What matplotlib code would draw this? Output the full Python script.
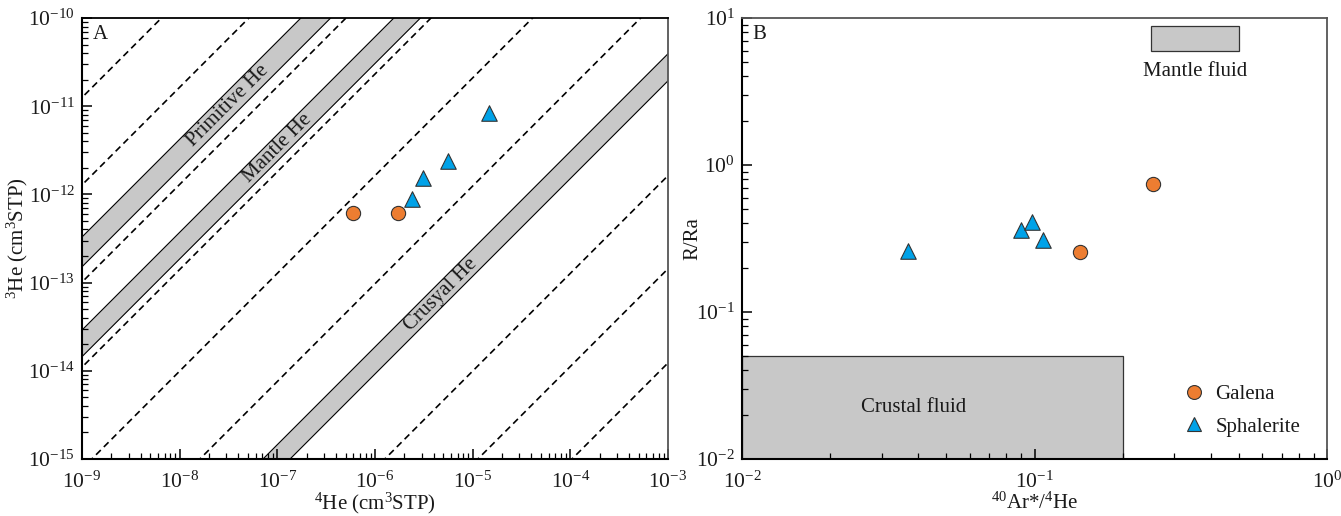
import numpy as np
import matplotlib
matplotlib.use("Agg")
import matplotlib.pyplot as plt
from matplotlib.lines import Line2D
from matplotlib.patches import Rectangle
from matplotlib.ticker import LogLocator, NullFormatter

plt.rcParams['font.family'] = ['Liberation Serif', 'DejaVu Serif']
plt.rcParams['mathtext.fontset'] = 'custom'
plt.rcParams['mathtext.rm'] = 'Liberation Serif'
plt.rcParams['mathtext.it'] = 'Liberation Serif:italic'
plt.rcParams['axes.unicode_minus'] = False

# ---------------- data : panel A ----------------
# 4He, 3He (cm3 STP)
galena_he4 = [5.9e-7, 1.7e-6]
galena_he3 = [6.1e-13, 6.1e-13]
sphal_he4 = [2.4e-6, 3.1e-6, 5.6e-6, 1.47e-5]
sphal_he3 = [8.9e-13, 1.53e-12, 2.4e-12, 8.4e-12]

# reference lines: 4He value where each line meets 3He = 1e-15, common log-slope
line_slope = 1.108
dashed_x0 = [2.0e-13, 1.57e-12, 1.55e-11, 1.15e-10, 1.26e-9, 1.61e-8,
             1.26e-6, 1.13e-5, 1.04e-4]
band_names = ["Primitive He", "Mantle He", "Crusyal He"]
band_x0_upper = [5.35e-12, 4.79e-11, 7.13e-8]
band_x0_lower = [1.08e-11, 8.97e-11, 1.35e-7]
band_label_x = [3.1e-8, 1.0e-7, 4.7e-6]

# ---------------- data : panel B ----------------
galena_ar = [0.143, 0.255]
galena_rra = [0.256, 0.74]
sphal_ar = [0.037, 0.090, 0.098, 0.107]
sphal_rra = [0.26, 0.36, 0.41, 0.31]
mantle_box = dict(x=(0.25, 0.5), y=(6.0, 8.8))
crust_box = dict(x=(0.01, 0.2), y=(0.01, 0.05))

ORANGE = "#ED7D31"
BLUE = "#00A2E8"
GRAY = "#C8C8C8"
TXT = "#1a1a1a"

W, H = 1341, 516
fig = plt.figure(figsize=(W / 100, H / 100), dpi=100)

def frac(x0, y0, x1, y1):
    return [x0 / W, 1 - y1 / H, (x1 - x0) / W, (y1 - y0) / H]

axA = fig.add_axes(frac(82, 18, 668, 459))
axB = fig.add_axes(frac(742, 18, 1327, 459))

def style(ax):
    ax.set_xscale('log')
    ax.set_yscale('log')
    ax.tick_params(which='both', direction='in', top=False, right=False,
                   labelsize=15.5, colors='black', labelcolor=TXT)
    ax.tick_params(which='major', length=7, width=1.1)
    ax.tick_params(which='minor', length=4, width=0.9)
    ax.tick_params(axis='x', which='both', pad=9)
    ax.tick_params(axis='y', which='both', pad=5)
    for s in ['left', 'bottom']:
        ax.spines[s].set_linewidth(1.5)
        ax.spines[s].set_color('black')
    for s in ['top', 'right']:
        ax.spines[s].set_linewidth(1.3)
        ax.spines[s].set_color('#555555')
    ax.xaxis.set_minor_locator(LogLocator(base=10, subs=np.arange(2, 10)))
    ax.yaxis.set_minor_locator(LogLocator(base=10, subs=np.arange(2, 10)))
    ax.xaxis.set_minor_formatter(NullFormatter())
    ax.yaxis.set_minor_formatter(NullFormatter())

# ---------------- panel A ----------------
style(axA)
axA.spines['top'].set_color('black')
xlimA = (1e-9, 1e-3)
ylimA = (1e-15, 1e-10)
xx = np.logspace(-13, -2, 400)

def ref_line(x0):
    return 1e-15 * (xx / x0) ** line_slope

for x0 in dashed_x0:
    axA.plot(xx, ref_line(x0), color='black', lw=1.2, ls=(0, (4, 2.6)), zorder=2)

for name, xu, xl, lx in zip(band_names, band_x0_upper, band_x0_lower, band_label_x):
    yu = ref_line(xu)
    yl = ref_line(xl)
    axA.fill_between(xx, yl, yu, color=GRAY, lw=0, zorder=1)
    axA.plot(xx, yu, color='black', lw=0.8, zorder=2)
    axA.plot(xx, yl, color='black', lw=0.8, zorder=2)
    ly = 1e-15 * (lx / np.sqrt(xu * xl)) ** line_slope
    axA.text(lx, ly, name, rotation=45, rotation_mode='anchor', ha='center',
             va='center', fontsize=15, color=TXT, zorder=3)

axA.scatter(galena_he4, galena_he3, s=105, marker='o', facecolor=ORANGE,
            edgecolor='#333333', linewidth=0.8, zorder=5)
axA.scatter(sphal_he4, sphal_he3, s=125, marker='^', facecolor=BLUE,
            edgecolor='#333333', linewidth=0.8, zorder=5)
axA.set_xlim(*xlimA)
axA.set_ylim(*ylimA)
axA.set_xlabel(r'$^{4}$He (cm$^{3}$STP)', fontsize=15, color=TXT)
axA.set_ylabel(r'$^{3}$He (cm$^{3}$STP)', fontsize=15, color=TXT)
axA.xaxis.set_label_coords(0.5, -0.072)
axA.yaxis.set_label_coords(-0.089, 0.5)
axA.text(0.018, 0.985, 'A', transform=axA.transAxes, ha='left', va='top',
         fontsize=15, color=TXT)

# ---------------- panel B ----------------
style(axB)
for box in (mantle_box, crust_box):
    (x0, x1), (y0, y1) = box['x'], box['y']
    axB.add_patch(Rectangle((x0, y0), x1 - x0, y1 - y0, facecolor=GRAY,
                            edgecolor='#333333', lw=0.9, zorder=1))
axB.text(np.sqrt(0.25 * 0.5), 5.0, 'Mantle fluid', ha='center', va='top',
         fontsize=15, color=TXT)
axB.text(0.0385, 0.0225, 'Crustal fluid', ha='center', va='center',
         fontsize=15, color=TXT)
axB.scatter(galena_ar, galena_rra, s=105, marker='o', facecolor=ORANGE,
            edgecolor='#333333', linewidth=0.8, zorder=5)
axB.scatter(sphal_ar, sphal_rra, s=125, marker='^', facecolor=BLUE,
            edgecolor='#333333', linewidth=0.8, zorder=5)
axB.set_xlim(1e-2, 1e0)
axB.set_ylim(1e-2, 1e1)
axB.set_xlabel(r'$^{40}$Ar*/$^{4}$He', fontsize=15, color=TXT)
axB.set_ylabel('R/Ra', fontsize=15, color=TXT)
axB.xaxis.set_label_coords(0.5, -0.076)
axB.yaxis.set_label_coords(-0.067, 0.5)
axB.text(0.018, 0.985, 'B', transform=axB.transAxes, ha='left', va='top',
         fontsize=15, color=TXT)

handles = [
    Line2D([], [], ls='none', marker='o', markersize=10, markerfacecolor=ORANGE,
           markeredgecolor='#333333', markeredgewidth=0.8, label='Galena'),
    Line2D([], [], ls='none', marker='^', markersize=10, markerfacecolor=BLUE,
           markeredgecolor='#333333', markeredgewidth=0.8, label='Sphalerite'),
]
axB.legend(handles=handles, loc='upper left', bbox_to_anchor=(0.754, 0.168),
           frameon=False, borderpad=0, borderaxespad=0, handlelength=1.0,
           handletextpad=0.56, labelspacing=0.6, fontsize=15,
           labelcolor=TXT)

fig.savefig('out.png', dpi=100)
